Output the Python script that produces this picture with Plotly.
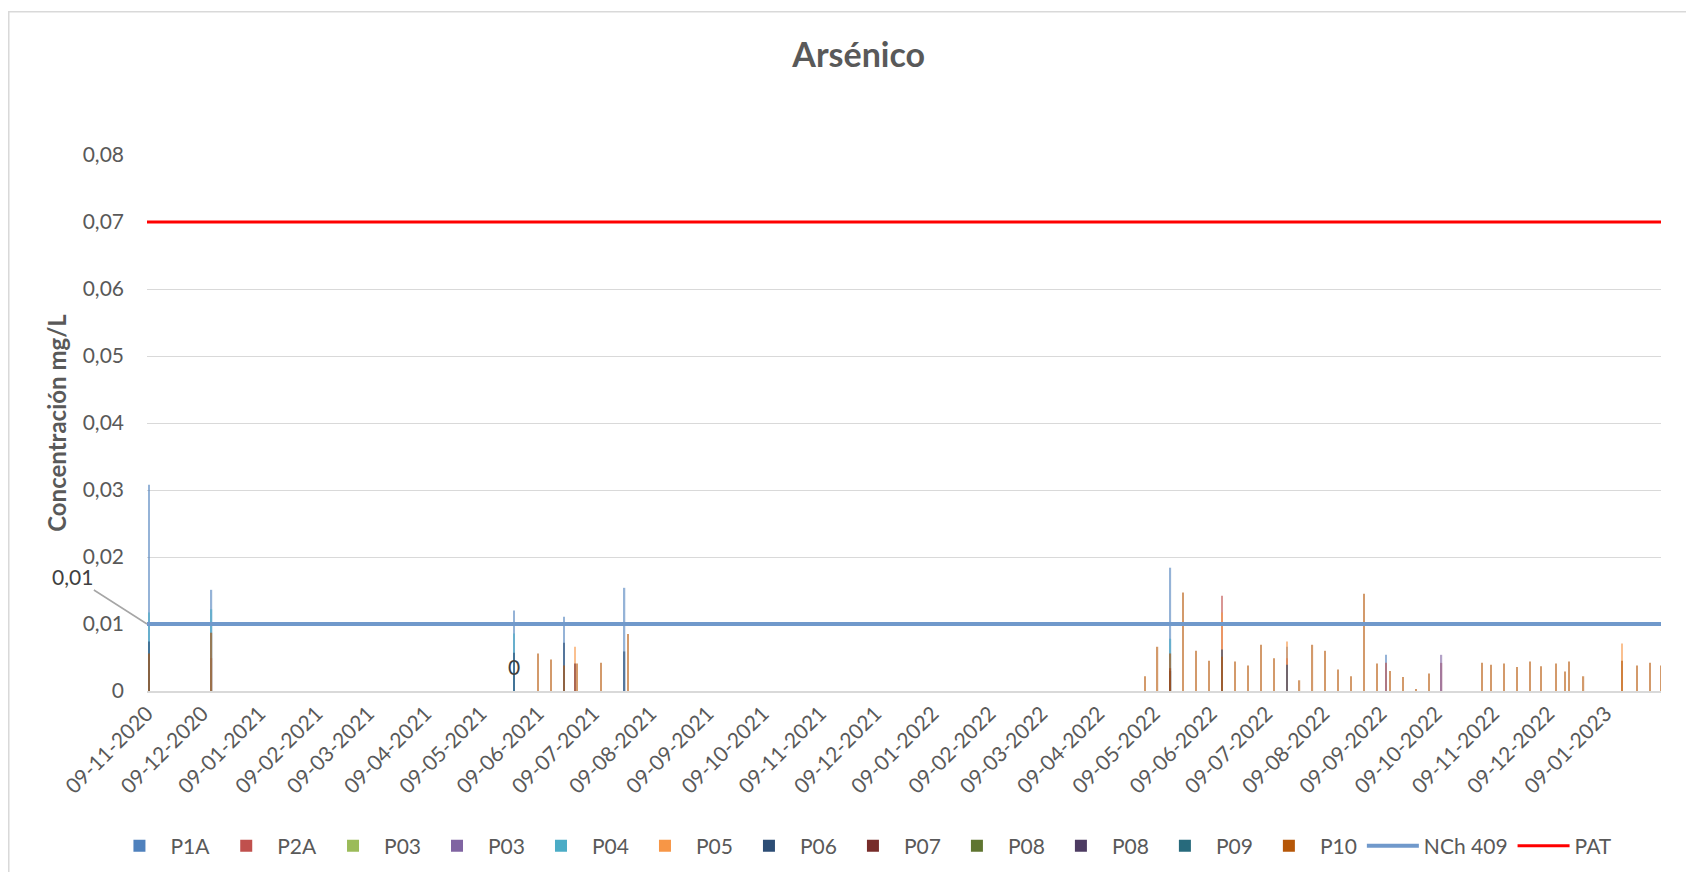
import plotly.graph_objects as go

# ---------------- data ----------------
series_names = ["P1A", "P2A", "P03", "P03", "P04", "P05", "P06", "P07", "P08", "P08", "P09", "P10"]
series_colors = ["#4F81BD", "#C0504D", "#9BBB59", "#8064A2", "#4BACC6", "#F79646",
                 "#2C4D75", "#772C2A", "#5F7530", "#4D3B62", "#276A7C", "#B65708"]

p1a_dates = ["2020-11-10", "2020-12-14", "2021-05-27", "2021-06-23", "2021-07-26",
             "2022-05-18", "2022-07-20", "2022-09-12"]
p1a_vals = [0.0308, 0.0151, 0.0120, 0.0111, 0.0154, 0.0184, 0.0066, 0.0054]

p2a_dates = ["2020-12-14", "2022-06-15", "2022-07-20", "2022-09-12", "2022-10-12"]
p2a_vals = [0.0049, 0.0142, 0.0049, 0.0042, 0.0042]

p03a_dates = [None]
p03a_vals = [None]

p03b_dates = ["2022-10-12"]
p03b_vals = [0.0054]

p04_dates = ["2020-11-10", "2020-12-14", "2021-05-27", "2022-05-18"]
p04_vals = [0.0117, 0.0122, 0.0086, 0.0078]

p05_dates = ["2021-06-29", "2022-06-15", "2022-07-20", "2023-01-18"]
p05_vals = [0.0066, 0.0117, 0.0074, 0.0071]

p06_dates = ["2020-11-10", "2021-05-27", "2021-06-23", "2021-07-26", "2022-05-18",
             "2022-06-15", "2022-07-20"]
p06_vals = [0.0074, 0.0057, 0.0072, 0.0059, 0.0030, 0.0062, 0.0039]

p07_dates = ["2021-06-29", "2022-05-18"]
p07_vals = [0.0041, 0.0034]

p08a_dates = [None]
p08a_vals = [None]
p08b_dates = [None]
p08b_vals = [None]
p09_dates = [None]
p09_vals = [None]

p10_dates = ["2020-11-10", "2020-12-14", "2021-06-09", "2021-06-16", "2021-06-23",
             "2021-06-30", "2021-07-13", "2021-07-28",
             "2022-05-04", "2022-05-11", "2022-05-18", "2022-05-25", "2022-06-01",
             "2022-06-08", "2022-06-15", "2022-06-22", "2022-06-29", "2022-07-06",
             "2022-07-13", "2022-07-27", "2022-08-03", "2022-08-10", "2022-08-17",
             "2022-08-24", "2022-08-31", "2022-09-07", "2022-09-14", "2022-09-21",
             "2022-09-28", "2022-10-05", "2022-11-03", "2022-11-08", "2022-11-15",
             "2022-11-22", "2022-11-29", "2022-12-05", "2022-12-13", "2022-12-18",
             "2022-12-20", "2022-12-28", "2023-01-18", "2023-01-26", "2023-02-02",
             "2023-02-08"]
p10_vals = [0.0056, 0.0087, 0.0056, 0.0047, 0.0038,
            0.0041, 0.0042, 0.0085,
            0.0022, 0.0066, 0.0056, 0.0147, 0.0060,
            0.0045, 0.0051, 0.0044, 0.0038, 0.0069,
            0.0049, 0.0016, 0.0069, 0.0060, 0.0032,
            0.0022, 0.0145, 0.0041, 0.0030, 0.0021,
            0.0003, 0.0026, 0.0042, 0.0039, 0.0041,
            0.0036, 0.0044, 0.0037, 0.0041, 0.0029,
            0.0044, 0.0022, 0.0045, 0.0038, 0.0042,
            0.0038]

series_dates = [p1a_dates, p2a_dates, p03a_dates, p03b_dates, p04_dates, p05_dates,
                p06_dates, p07_dates, p08a_dates, p08b_dates, p09_dates, p10_dates]
series_vals = [p1a_vals, p2a_vals, p03a_vals, p03b_vals, p04_vals, p05_vals,
               p06_vals, p07_vals, p08a_vals, p08b_vals, p09_vals, p10_vals]

limit_dates = ["2020-11-09", "2023-02-08"]
nch409_vals = [0.01, 0.01]
pat_vals = [0.07, 0.07]

x_tick_dates = ["2020-11-09", "2020-12-09", "2021-01-09", "2021-02-09", "2021-03-09",
                "2021-04-09", "2021-05-09", "2021-06-09", "2021-07-09", "2021-08-09",
                "2021-09-09", "2021-10-09", "2021-11-09", "2021-12-09", "2022-01-09",
                "2022-02-09", "2022-03-09", "2022-04-09", "2022-05-09", "2022-06-09",
                "2022-07-09", "2022-08-09", "2022-09-09", "2022-10-09", "2022-11-09",
                "2022-12-09", "2023-01-09"]
x_tick_labels = ["09-11-2020", "09-12-2020", "09-01-2021", "09-02-2021", "09-03-2021",
                 "09-04-2021", "09-05-2021", "09-06-2021", "09-07-2021", "09-08-2021",
                 "09-09-2021", "09-10-2021", "09-11-2021", "09-12-2021", "09-01-2022",
                 "09-02-2022", "09-03-2022", "09-04-2022", "09-05-2022", "09-06-2022",
                 "09-07-2022", "09-08-2022", "09-09-2022", "09-10-2022", "09-11-2022",
                 "09-12-2022", "09-01-2023"]
y_tick_vals = [0, 0.01, 0.02, 0.03, 0.04, 0.05, 0.06, 0.07, 0.08]
y_tick_labels = ["0", "0,01", "0,02", "0,03", "0,04", "0,05", "0,06", "0,07", "0,08"]

# ---------------- figure ----------------
FONT = "Lato"
GREY = "#595959"
DAY_MS = 86400000

fig = go.Figure()
for name, color, xs, ys in zip(series_names, series_colors, series_dates, series_vals):
    fig.add_trace(go.Bar(
        x=xs, y=ys, name=name,
        marker=dict(color=color, opacity=0.6, line=dict(width=0)),
        width=[0.7 * DAY_MS] * len(xs),
    ))

fig.add_trace(go.Scatter(x=limit_dates, y=nch409_vals, name="NCh 409", mode="lines",
                         line=dict(color="#7099CB", width=4)))
fig.add_trace(go.Scatter(x=limit_dates, y=pat_vals, name="PAT", mode="lines",
                         line=dict(color="#FF0000", width=3)))

fig.update_layout(
    width=1678, height=864,
    margin=dict(l=139, r=25, t=146.5, b=180.5, autoexpand=False),
    paper_bgcolor="white", plot_bgcolor="white",
    barmode="overlay",
    font=dict(family=FONT, color=GREY, size=21),
    title=dict(text="<b>Arsénico</b>", x=0.507, xref="container", xanchor="center",
               y=0.9456, yref="container", yanchor="middle",
               font=dict(family=FONT, size=34, color=GREY)),
    xaxis=dict(
        type="date", range=[limit_dates[0], limit_dates[1]], automargin=False,
        tickvals=x_tick_dates, ticktext=x_tick_labels, tickangle=-45,
        tickfont=dict(size=21, color=GREY),
        showgrid=False, showline=True, linecolor="#d9d9d9", linewidth=2,
        ticks="", zeroline=False,
    ),
    yaxis=dict(
        range=[0, 0.08], tickvals=y_tick_vals, ticktext=y_tick_labels, automargin=False,
        tickfont=dict(size=21, color=GREY),
        showgrid=True, gridcolor="#d9d9d9", gridwidth=1.3,
        zeroline=False, showline=False, ticks="", ticklabelstandoff=22,
        title=dict(text="<b>Concentración mg/L</b>", standoff=9,
                   font=dict(size=24, color=GREY)),
    ),
    legend=dict(orientation="h", xref="container", x=0.5095, xanchor="center",
                yref="container", y=0.03, yanchor="middle",
                font=dict(size=21, color=GREY), itemwidth=52,
                traceorder="normal"),
    annotations=[
        dict(x=limit_dates[0], y=nch409_vals[0], xref="x", yref="y", text="0,01",
             showarrow=True, arrowhead=0, arrowcolor="#a6a6a6", arrowwidth=1.5,
             ax=-75, ay=-48, font=dict(size=21, color="#404040")),
        dict(x="2021-05-27", y=0.0037, xref="x", yref="y", text="0", showarrow=False,
             font=dict(size=21, color="#404040")),
    ],
    shapes=[
        dict(type="rect", xref="paper", yref="paper", x0=-0.0913, x1=1.03, y0=-0.36, y1=1.2672,
             line=dict(color="#d9d9d9", width=1.5), fillcolor="rgba(0,0,0,0)", layer="below"),
    ],
)

fig.write_html("out.html")
